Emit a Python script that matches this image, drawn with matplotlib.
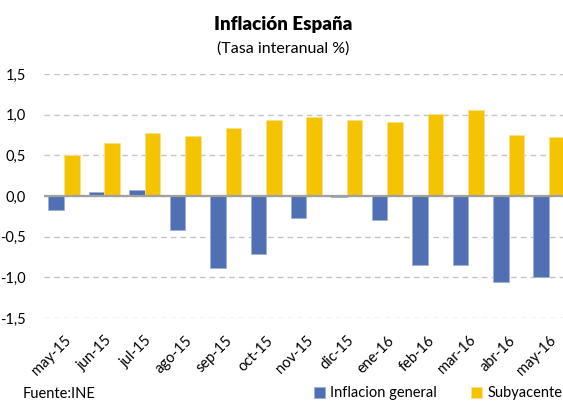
import matplotlib
matplotlib.use('Agg')
import matplotlib.pyplot as plt
import numpy as np

# data
meses = ['may-15', 'jun-15', 'jul-15', 'ago-15', 'sep-15', 'oct-15', 'nov-15',
         'dic-15', 'ene-16', 'feb-16', 'mar-16', 'abr-16', 'may-16']
inflacion_general = [-0.17, 0.05, 0.07, -0.42, -0.88, -0.71, -0.27,
                     -0.01, -0.29, -0.85, -0.85, -1.06, -0.99]
subyacente = [0.51, 0.65, 0.78, 0.74, 0.84, 0.93, 0.97,
              0.94, 0.91, 1.01, 1.06, 0.75, 0.72]
yticks = [-1.5, -1.0, -0.5, 0.0, 0.5, 1.0, 1.5]

plt.rcParams['font.family'] = ['Lato', 'DejaVu Sans']

azul = '#5170B3'
amarillo = '#F5C400'

fig = plt.figure(figsize=(5.63, 4.03), dpi=100)
# plot area runs past the right edge, like the cropped original
ax = fig.add_axes([0.0778, 0.2109, 0.9332, 0.6055])

x = np.arange(len(meses))
w = 0.385
ax.bar(x - w / 2, inflacion_general, w, color=azul, edgecolor='#9fb1d8',
       linewidth=0.6, label='Inflacion general', zorder=2)
ax.bar(x + w / 2, subyacente, w, color=amarillo, edgecolor='#fbe08a',
       linewidth=0.6, label='Subyacente', zorder=2)

ax.set_xlim(-0.5, len(meses) - 0.5)
ax.set_ylim(-1.5, 1.5)
ax.set_yticks(yticks)
ax.set_yticklabels(['{:.1f}'.format(v).replace('.', ',') for v in yticks], fontsize=10.5)
ax.yaxis.grid(True, linestyle=(0, (4, 3)), color='#c4c4c4', linewidth=1.0, zorder=0)
ax.axhline(0, color='#a0a0a0', linewidth=1.6, zorder=3)

ax.set_xticks(x)
ax.set_xticklabels(meses, rotation=45, ha='right', rotation_mode='anchor', fontsize=10.5)
ax.tick_params(axis='both', length=0)
ax.tick_params(axis='x', pad=11)
ax.tick_params(axis='y', pad=13)
for s in ax.spines.values():
    s.set_visible(False)

fig.text(0.503, 0.940, 'Inflación España', ha='center', va='center',
         fontsize=13.5, fontweight='heavy')
fig.text(0.503, 0.880, '(Tasa interanual %)', ha='center', va='center', fontsize=11.5)
fig.text(0.041, 0.022, 'Fuente:INE', ha='left', va='center', fontsize=10.5)

fig.legend(loc='center left', bbox_to_anchor=(0.557, 0.024), ncol=2, frameon=False,
           fontsize=10.5, handlelength=0.75, handleheight=0.75, handletextpad=0.35,
           columnspacing=2.4, borderaxespad=0, borderpad=0)

fig.savefig('out.png', dpi=100)
